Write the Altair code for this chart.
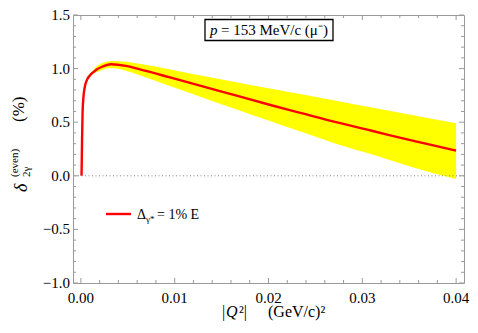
import altair as alt
import pandas as pd

# ---- data ----
q = [0.00007, 0.00012, 0.00018, 0.00028, 0.00042, 0.00065, 0.00094, 0.0013, 0.00165, 0.00234,
     0.0032, 0.0048, 0.0062, 0.0094, 0.0125, 0.0167, 0.0200, 0.0235, 0.0272, 0.0310, 0.0350, 0.0400]
center = [0.00, 0.30, 0.59, 0.74, 0.83, 0.895, 0.934, 0.965, 0.99, 1.02,
          1.04, 1.025, 0.995, 0.92, 0.845, 0.745, 0.665, 0.585, 0.50, 0.42, 0.335, 0.235]
upper = [0.00, 0.30, 0.59, 0.74, 0.83, 0.895, 0.945, 0.985, 1.02, 1.055,
         1.07, 1.065, 1.045, 0.995, 0.94, 0.87, 0.816, 0.76, 0.70, 0.637, 0.572, 0.49]
lower = [0.00, 0.30, 0.59, 0.74, 0.83, 0.895, 0.925, 0.95, 0.965, 0.99,
         1.005, 0.98, 0.94, 0.84, 0.745, 0.615, 0.515, 0.41, 0.30, 0.20, 0.09, -0.03]

x_major = [0.0, 0.01, 0.02, 0.03, 0.04]
x_labels = ["0.00", "0.01", "0.02", "0.03", "0.04"]
x_minor = [0.002, 0.004, 0.006, 0.008, 0.012, 0.014, 0.016, 0.018, 0.022, 0.024, 0.026, 0.028,
           0.032, 0.034, 0.036, 0.038]
y_major = [-1.0, -0.5, 0.0, 0.5, 1.0, 1.5]
y_labels = ["\u22121.0", "\u22120.5", "0.0", "0.5", "1.0", "1.5"]
y_minor = [-0.9, -0.8, -0.7, -0.6, -0.4, -0.3, -0.2, -0.1, 0.1, 0.2, 0.3, 0.4,
           0.6, 0.7, 0.8, 0.9, 1.1, 1.2, 1.3, 1.4]

legend_label = "= 1% E"
box_label = "= 153 MeV/c (\u03bc\u207b)"

W, H = 391, 268
FONT = "Liberation Serif"
FRAME = "#9a9a9a"

df = pd.DataFrame({"q": q, "c": center, "u": upper, "l": lower})

xscale = alt.Scale(domain=[-0.00084, 0.04084], nice=False, zero=False)
yscale = alt.Scale(domain=[-1.0, 1.5], nice=False, zero=False)

X = lambda f: alt.X(f, type="quantitative", scale=xscale, axis=None)
Y = lambda f: alt.Y(f, type="quantitative", scale=yscale, axis=None)

band = alt.Chart(df).mark_area(color="#ffff00", opacity=1, interpolate="monotone").encode(
    x=X("q"), y=Y("u"), y2="l")
line = alt.Chart(df).mark_line(color="#ff0000", strokeWidth=2.4, interpolate="monotone").encode(
    x=X("q"), y=Y("c"))

zero = alt.Chart(pd.DataFrame({"z": [0.0]})).mark_rule(
    color="#888888", strokeDash=[1, 2.5], strokeWidth=1).encode(y=Y("z"))

def xticks(vals, size):
    d = alt.Chart(pd.DataFrame({"t": vals}))
    bottom = d.mark_rule(color=FRAME, strokeWidth=1).encode(
        x=X("t"), y=alt.value(H), y2=alt.value(H - size))
    top = d.mark_rule(color=FRAME, strokeWidth=1).encode(
        x=X("t"), y=alt.value(0), y2=alt.value(size))
    return [bottom, top]

def yticks(vals, size):
    d = alt.Chart(pd.DataFrame({"t": vals}))
    left = d.mark_rule(color=FRAME, strokeWidth=1).encode(
        y=Y("t"), x=alt.value(0), x2=alt.value(size))
    right = d.mark_rule(color=FRAME, strokeWidth=1).encode(
        y=Y("t"), x=alt.value(W), x2=alt.value(W - size))
    return [left, right]

ticks = xticks(x_major, 5) + xticks(x_minor, 3) + yticks(y_major, 5) + yticks(y_minor, 3)

# tick labels (serif, drawn through the scales)
xlab = alt.Chart(pd.DataFrame({"t": x_major, "s": x_labels})).mark_text(
    font=FONT, fontSize=15, align="center", baseline="top", color="black").encode(
    x=X("t"), y=alt.value(H + 8), text="s:N")
ylab = alt.Chart(pd.DataFrame({"t": y_major, "s": y_labels})).mark_text(
    font=FONT, fontSize=15, align="right", baseline="middle", color="black").encode(
    y=Y("t"), x=alt.value(-3), text="s:N")

one = pd.DataFrame({"a": [0]})

def txt(s, x, y, size, italic=False, angle=0, align="left", baseline="alphabetic"):
    kw = dict(text=s, font=FONT, fontSize=size, align=align, baseline=baseline, color="black")
    if italic:
        kw["fontStyle"] = "italic"
    if angle:
        kw["angle"] = angle
    return alt.Chart(one).mark_text(**kw).encode(x=alt.value(x), y=alt.value(y))

# y-axis title: delta^(even)_{2gamma} (%)
ytitle = [
    txt("\u03b4", -46, 177, 18, italic=True, angle=270),
    txt("(even)", -55, 162, 11, angle=270),
    txt("2\u03b3", -43, 162, 11, angle=270),
    txt("(%)", -49, 107, 17, angle=270),
]

# x-axis title: |Q^2|  (GeV/c)^2
xtitle = [
    txt("|", 149, 302, 16),
    txt("Q", 153, 302, 16, italic=True),
    txt("\u00b2|", 166, 302, 16),
    txt("(GeV/c)\u00b2", 195, 302, 16),
]

# annotation box
box = alt.Chart(one).mark_rect(fill="white", stroke="black", strokeWidth=1.3).encode(
    x=alt.value(132), x2=alt.value(260), y=alt.value(4.5), y2=alt.value(25.5))
boxtext = [
    txt("p", 137, 20, 15, italic=True),
    txt(box_label, 148, 20, 15),
]

# legend
leg_line = alt.Chart(one).mark_rule(color="#ff0000", strokeWidth=2.4).encode(
    x=alt.value(33), x2=alt.value(58), y=alt.value(199))
legend = [
    leg_line,
    txt("\u0394", 64, 204, 14),
    txt("\u03b3*", 73, 207, 9),
    txt(legend_label, 84, 204, 14),
]

chart = alt.layer(band, line, zero, *ticks, xlab, ylab, box, *boxtext, *legend, *ytitle, *xtitle).properties(
    width=W, height=H,
    autosize=alt.AutoSizeParams(type="none"),
    padding={"left": 65, "top": 7, "right": 6, "bottom": 42},
).configure_view(stroke=FRAME, strokeWidth=1)

chart.save("out.html", embed_options={"renderer": "svg", "actions": False})
